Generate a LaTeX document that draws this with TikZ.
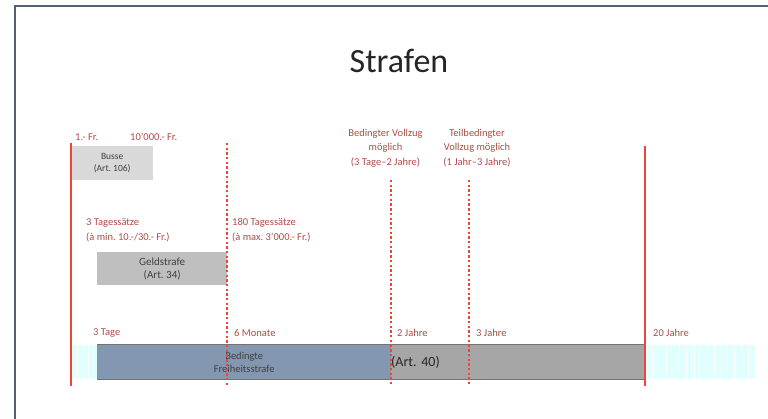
\documentclass[tikz,border=0pt]{standalone}
\usepackage{fontspec}
\setmainfont{Carlito}
\usetikzlibrary{positioning,calc}
\definecolor{rline}{RGB}{236,70,56}
\definecolor{rtext}{RGB}{176,74,70}
\definecolor{framec}{RGB}{84,96,116}
\definecolor{blgray}{RGB}{132,151,176}
\definecolor{cyanpale}{RGB}{226,255,255}

\begin{document}
\frenchspacing
\begin{tikzpicture}[x=1pt,y=-1pt,
    lbl/.style={text=rtext,inner sep=0pt,align=left,font=\fontsize{10.5}{15}\selectfont},
    clbl/.style={lbl,align=center,font=\fontsize{10.5}{14.5}\selectfont},
    box/.style={inner sep=0pt,anchor=north west,align=center,text=black!75},
    solidmark/.style={draw=rline,line width=2.6pt},
    dotmark/.style={draw=rline,line width=2.5pt,dash pattern=on 2.4pt off 2.3pt}]
  \useasboundingbox (0,0) rectangle (768,419);
  \draw[framec,line width=1.5pt] (15,419) -- (15,6) -- (768,6);
  \node[text=black!85,font=\fontsize{34}{40}\selectfont] (title) at (399,61) {Strafen};

  % Busse und Geldstrafe
  \node[box,fill=black!15,minimum width=82,minimum height=34,font=\fontsize{9.5}{12}\selectfont] (busse) at (71,146) {Busse\\(Art. 106)};
  \node[box,fill=black!25,minimum width=130,minimum height=33,font=\fontsize{11}{13}\selectfont] (geld) at (97,252) {Geldstrafe\\(Art. 34)};

  % Freiheitsstrafe
  \fill[cyanpale] (71,345) rectangle (97,379);
  \fill[cyanpale] (647,345) rectangle (755,379);
  \foreach \x in {76,83,88,93,652,659,666,671,679,686,694,699,707,714,721,727,734,741,748}
    \draw[white,line width=0.6pt] (\x,345) -- (\x,379);
  \node[box,fill=blgray,minimum width=294,minimum height=34,font=\fontsize{10.5}{13}\selectfont] (frs) at (97,345) {Bedingte\\Freiheitsstrafe};
  \node[box,fill=black!35,minimum width=254,minimum height=34,text width=254,align=left,text=black!85,font=\fontsize{14}{16}\selectfont] (art) at (391,345) {(Art. 40)};
  \draw[black!55,line width=1pt] (frs.north west) -- (art.north east);
  \draw[black!55,line width=1pt] (frs.south west) -- (art.south east);

  % Grenzen
  \coordinate (min) at (71,143);
  \coordinate (minb) at (71,386);
  \coordinate (max) at (645,146);
  \coordinate (maxb) at (645,386);
  \coordinate (sechs) at (227,143);
  \coordinate (sechsb) at (227,386);
  \coordinate (zwei) at (391,180);
  \coordinate (zweib) at (391,386);
  \coordinate (drei) at (469,180);
  \coordinate (dreib) at (469,386);
  \draw[solidmark] (min) -- (minb);
  \draw[solidmark] (max) -- (maxb);
  \draw[dotmark] (sechs) -- (sechsb);
  \draw[dotmark] (zwei) -- (zweib);
  \draw[dotmark] (drei) -- (dreib);

  % Beschriftungen
  \node[lbl,anchor=west] (fr1) at (75,137) {1.- Fr.};
  \node[lbl,anchor=west] (fr2) at (130,137) {10'000.- Fr.};
  \node[lbl,anchor=west] (ts1) at (86,230) {3 Tagessätze\\(à min. 10.-/30.- Fr.)};
  \node[lbl,anchor=west] (ts2) at (232,230) {180 Tagessätze\\(à max. 3'000.- Fr.)};
  \node[clbl] (bv) at (385.5,148) {Bedingter Vollzug\\möglich\\(3 Tage–2 Jahre)};
  \node[clbl] (tv) at (477,148) {Teilbedingter\\Vollzug möglich\\(1 Jahr–3 Jahre)};
  \node[lbl,anchor=west] (t3) at (93,333) {3 Tage};
  \node[lbl,anchor=west] (m6) at (234,333) {6 Monate};
  \node[lbl,anchor=west] (j2) at (397,333) {2 Jahre};
  \node[lbl,anchor=west] (j3) at (476,333) {3 Jahre};
  \node[lbl,anchor=west] (j20) at (653,333) {20 Jahre};
\end{tikzpicture}
\end{document}
